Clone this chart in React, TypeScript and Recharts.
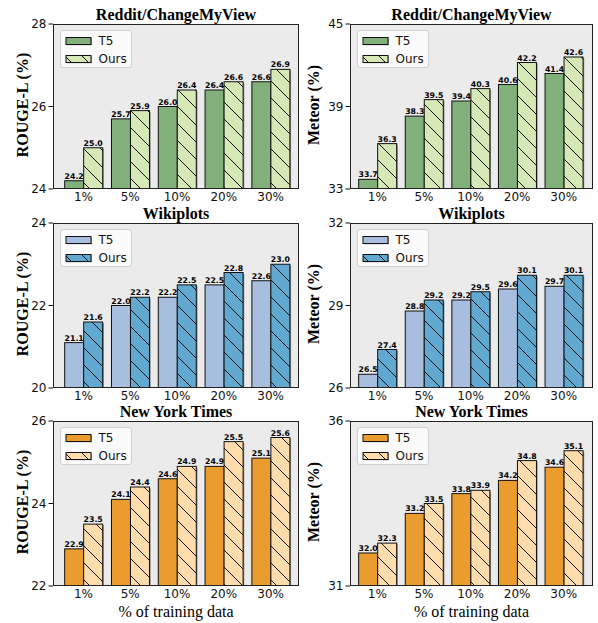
import { Bar, BarChart, CartesianGrid, LabelList, Legend, XAxis, YAxis } from "recharts";

const categories = ["1%", "5%", "10%", "20%", "30%"];

// Reddit/ChangeMyView
const cmvRougeT5 = [24.2, 25.7, 26.0, 26.4, 26.6];
const cmvRougeOurs = [25.0, 25.9, 26.4, 26.6, 26.9];
const cmvMeteorT5 = [33.7, 38.3, 39.4, 40.6, 41.4];
const cmvMeteorOurs = [36.3, 39.5, 40.3, 42.2, 42.6];

// Wikiplots
const wikiRougeT5 = [21.1, 22.0, 22.2, 22.5, 22.6];
const wikiRougeOurs = [21.6, 22.2, 22.5, 22.8, 23.0];
const wikiMeteorT5 = [26.5, 28.8, 29.2, 29.6, 29.7];
const wikiMeteorOurs = [27.4, 29.2, 29.5, 30.1, 30.1];

// New York Times
const nytRougeT5 = [22.9, 24.1, 24.6, 24.9, 25.1];
const nytRougeOurs = [23.5, 24.4, 24.9, 25.5, 25.6];
const nytMeteorT5 = [32.0, 33.2, 33.8, 34.2, 34.6];
const nytMeteorOurs = [32.3, 33.5, 33.9, 34.8, 35.1];

const cmvRougeTicks = [24, 26, 28];
const cmvMeteorTicks = [33, 39, 45];
const wikiRougeTicks = [20, 22, 24];
const wikiMeteorTicks = [26, 29, 32];
const nytRougeTicks = [22, 24, 26];
const nytMeteorTicks = [31, 36];

const serif = '"Liberation Serif", "Times New Roman", serif';
const sans = '"DejaVu Sans", sans-serif';

const PLOT_H = 165;
const XAXIS_H = 22;
const TOP_PAD = 10; // room for the top tick label

const palettes = {
  green: { t5: "#82b07a", ours: "#d7e8b7" },
  blue: { t5: "#a8bedf", ours: "#62a9d2" },
  orange: { t5: "#eb9c2e", ours: "#fedcab" },
};

function BarShape(props: any) {
  const { x, y, width, height, fill } = props;
  if (!height || height <= 0) return null;
  return (
    <g>
      <rect x={x + 1.2} y={y + 1.2} width={width} height={Math.max(height - 1.2, 0)} fill="#8c8c8c" />
      <rect x={x} y={y} width={width} height={height} fill={fill} stroke="#111" strokeWidth={1} />
    </g>
  );
}

function LegendBox({ t5, hatchId }: { t5: string; hatchId: string }) {
  const row = (label: string, fill: string, top: number) => (
    <div style={{ position: "absolute", left: 0, top, height: 14, display: "flex", alignItems: "center" }}>
      <svg width={34} height={14} style={{ display: "block" }}>
        <rect x={5.8} y={4.2} width={25} height={7} fill="#8c8c8c" />
        <rect x={5} y={3.5} width={25} height={7} fill={fill} stroke="#111" strokeWidth={1} />
      </svg>
      <span style={{ fontFamily: sans, fontSize: 12, color: "#111", marginLeft: 4, lineHeight: "14px" }}>{label}</span>
    </div>
  );
  return (
    <div
      style={{
        position: "relative",
        width: 72,
        height: 38,
        background: "rgba(255,255,255,0.8)",
        border: "1px solid #d0d0d0",
        borderRadius: 3,
        boxSizing: "border-box",
      }}
    >
      {row("T5", t5, 3)}
      {row("Ours", `url(#${hatchId})`, 20.5)}
    </div>
  );
}

type PanelProps = {
  left: number;
  top: number;
  width: number;
  axisWidth: number;
  title: string;
  yLabel: string;
  yLabelX: number;
  t5: number[];
  ours: number[];
  ticks: number[];
  palette: keyof typeof palettes;
  hatchId: string;
  padLeft: number;
  padRight: number;
  xLabel?: boolean;
};

function Panel(p: PanelProps) {
  const colors = palettes[p.palette];
  const data = categories.map((cat, i) => ({ cat, t5: p.t5[i], ours: p.ours[i] }));
  const plotW = p.width - p.axisWidth;
  const plotCx = p.left + p.axisWidth + plotW / 2;
  return (
    <>
      <div
        style={{
          position: "absolute",
          left: plotCx - 150,
          width: 300,
          top: p.top - 13.9,
          textAlign: "center",
          fontFamily: serif,
          fontWeight: "bold",
          fontSize: 16,
          lineHeight: "10px",
          color: "#000",
          whiteSpace: "nowrap",
        }}
      >
        {p.title}
      </div>
      <div
        style={{
          position: "absolute",
          left: p.yLabelX,
          top: p.top + PLOT_H / 2 - 2,
          transform: "translate(-50%, -50%) rotate(-90deg)",
          fontFamily: serif,
          fontWeight: "bold",
          fontSize: 16,
          lineHeight: "16px",
          color: "#000",
          whiteSpace: "nowrap",
        }}
      >
        {p.yLabel}
      </div>
      {p.xLabel && (
        <div
          style={{
            position: "absolute",
            left: plotCx - 150,
            width: 300,
            top: 603.5,
            textAlign: "center",
            fontFamily: serif,
            fontSize: 16,
            lineHeight: "16px",
            color: "#000",
          }}
        >
          % of training data
        </div>
      )}
      <div style={{ position: "absolute", left: p.left, top: p.top - TOP_PAD }}>
        <BarChart
          width={p.width}
          height={PLOT_H + XAXIS_H + TOP_PAD}
          data={data}
          margin={{ top: TOP_PAD, right: 0, bottom: 0, left: 0 }}
          barCategoryGap="10%"
          barGap={0}
        >
          <defs>
            <pattern id={p.hatchId} patternUnits="userSpaceOnUse" width={17} height={17}>
              <rect width={17} height={17} fill={colors.ours} />
              <path d="M0,0 L17,17 M-8.5,8.5 L8.5,25.5 M8.5,-8.5 L25.5,8.5" stroke="#111" strokeWidth={1} />
            </pattern>
          </defs>
          <CartesianGrid fill="#ebebeb" horizontal={false} vertical={false} />
          <XAxis
            dataKey="cat"
            height={XAXIS_H}
            interval={0}
            axisLine={false}
            tickLine={false}
            tickSize={2}
            tickMargin={1.5}
            padding={{ left: p.padLeft, right: p.padRight }}
            tick={{ fill: "#111", fontSize: 12, fontFamily: sans }}
          />
          <YAxis
            type="number"
            width={p.axisWidth}
            domain={[p.ticks[0], p.ticks[p.ticks.length - 1]]}
            ticks={p.ticks}
            allowDataOverflow
            interval={0}
            axisLine={false}
            tickLine={{ stroke: "#111" }}
            tickSize={4.5}
            tickMargin={2}
            tick={{ fill: "#111", fontSize: 12, fontFamily: sans }}
          />
          <Legend
            layout="horizontal"
            verticalAlign="middle"
            align="center"
            wrapperStyle={{ left: p.axisWidth + 6.5, top: TOP_PAD + 6, width: "auto" }}
            content={() => <LegendBox t5={colors.t5} hatchId={p.hatchId} />}
          />
          <Bar dataKey="t5" name="T5" fill={colors.t5} shape={BarShape} isAnimationActive={false}>
            <LabelList
              dataKey="t5"
              position="top"
              offset={2}
              formatter={(v: any) => Number(v).toFixed(1)}
              fill="#000"
              fontSize={7.8}
              fontWeight="bold"
              fontFamily={sans}
            />
          </Bar>
          <Bar dataKey="ours" name="Ours" fill={`url(#${p.hatchId})`} shape={BarShape} isAnimationActive={false}>
            <LabelList
              dataKey="ours"
              position="top"
              offset={2}
              formatter={(v: any) => Number(v).toFixed(1)}
              fill="#000"
              fontSize={7.8}
              fontWeight="bold"
              fontFamily={sans}
            />
          </Bar>
        </BarChart>
        <div
          style={{
            position: "absolute",
            left: p.axisWidth,
            top: TOP_PAD,
            width: plotW,
            height: PLOT_H,
            border: "1px solid #222",
            boxSizing: "border-box",
            pointerEvents: "none",
          }}
        />
      </div>
    </>
  );
}

const rows = [24, 223, 421];

export default function App() {
  const leftCol = { left: 0, width: 299, axisWidth: 53, yLabelX: 22.5, padLeft: 7, padRight: 5 };
  const rightCol = { left: 300, width: 293, axisWidth: 50, yLabelX: 314, padLeft: 4, padRight: 6 };
  return (
    <div style={{ position: "absolute", left: 0, top: 0, width: 598, height: 623, background: "#fff" }}>
      <Panel {...leftCol} top={rows[0]} title="Reddit/ChangeMyView" yLabel="ROUGE-L (%)" t5={cmvRougeT5} ours={cmvRougeOurs} ticks={cmvRougeTicks} palette="green" hatchId="hatch-g1" />
      <Panel {...rightCol} top={rows[0]} title="Reddit/ChangeMyView" yLabel="Meteor (%)" t5={cmvMeteorT5} ours={cmvMeteorOurs} ticks={cmvMeteorTicks} palette="green" hatchId="hatch-g2" />
      <Panel {...leftCol} top={rows[1]} title="Wikiplots" yLabel="ROUGE-L (%)" t5={wikiRougeT5} ours={wikiRougeOurs} ticks={wikiRougeTicks} palette="blue" hatchId="hatch-b1" />
      <Panel {...rightCol} top={rows[1]} title="Wikiplots" yLabel="Meteor (%)" t5={wikiMeteorT5} ours={wikiMeteorOurs} ticks={wikiMeteorTicks} palette="blue" hatchId="hatch-b2" />
      <Panel {...leftCol} top={rows[2]} title="New York Times" yLabel="ROUGE-L (%)" t5={nytRougeT5} ours={nytRougeOurs} ticks={nytRougeTicks} palette="orange" hatchId="hatch-o1" xLabel />
      <Panel {...rightCol} top={rows[2]} title="New York Times" yLabel="Meteor (%)" t5={nytMeteorT5} ours={nytMeteorOurs} ticks={nytMeteorTicks} palette="orange" hatchId="hatch-o2" xLabel />
    </div>
  );
}
